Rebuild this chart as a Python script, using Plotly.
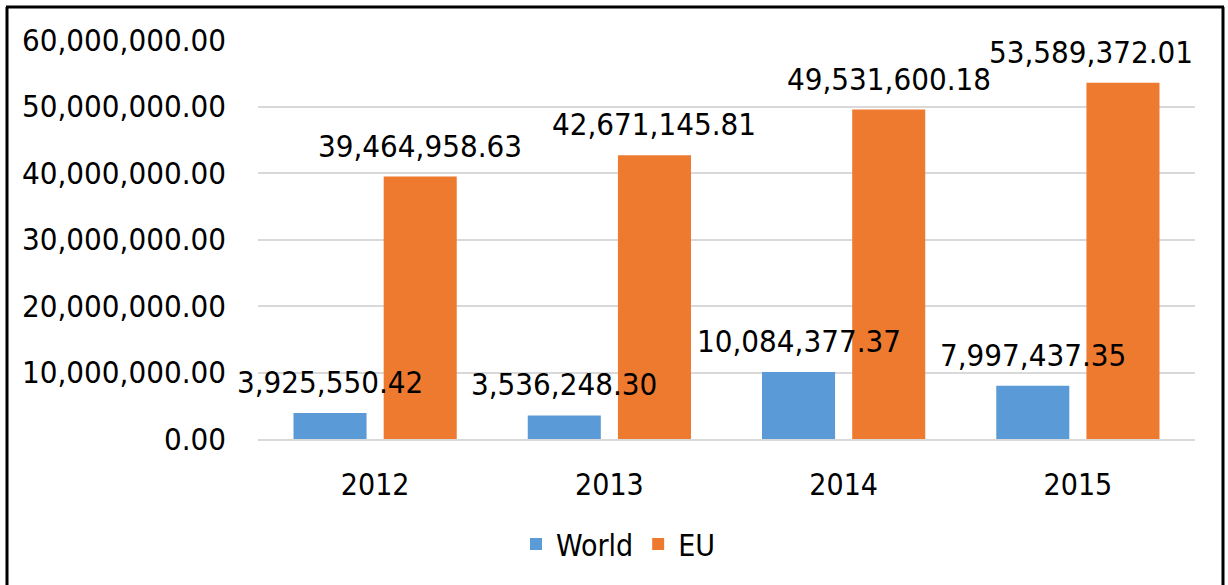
import plotly.graph_objects as go

years = ["2012", "2013", "2014", "2015"]
world = [3925550.42, 3536248.30, 10084377.37, 7997437.35]
eu = [39464958.63, 42671145.81, 49531600.18, 53589372.01]
y_ticks = [0, 10_000_000, 20_000_000, 30_000_000, 40_000_000, 50_000_000, 60_000_000]

FONT = "DejaVu Sans Condensed, DejaVu Sans, sans-serif"
W, H = 1228, 585
L, R, T, B = 258, 33, 40, 146
BARGAP = 0.23
LABEL_SIZE = 31

fig = go.Figure()
fig.add_trace(go.Bar(name="World", x=years, y=world, marker=dict(color="#5a9ad6", line=dict(width=0))))
fig.add_trace(go.Bar(name="EU", x=years, y=eu, marker=dict(color="#ee7a30", line=dict(width=0))))

pw, ph = W - L - R, H - T - B
cat_px = pw / len(years)

# value labels above each bar, nudged inward if they would run past the frame
half = (1 - BARGAP) / 4
for i in range(len(years)):
    for vals, off in ((world, -half), (eu, half)):
        text = f"{vals[i]:,.2f}"
        center = L + (i + 0.5 + off) * cat_px
        approx_w = 0.6 * LABEL_SIZE * len(text)
        right_edge = center + approx_w / 2
        shift = min(0, (W - 16) - right_edge)
        fig.add_annotation(
            x=i + off, y=vals[i], xref="x", yref="y",
            text=text, showarrow=False,
            yanchor="middle", yshift=31, xshift=shift,
            font=dict(family=FONT, size=LABEL_SIZE, color="black"),
        )

# frame around the chart (open at the bottom edge)
def px(x):
    return (x - L) / pw
def py(y):
    return (H - B - y) / ph
frame = dict(type="line", xref="paper", yref="paper", line=dict(color="black", width=3), layer="above")
fig.add_shape(**frame, x0=px(7), x1=px(7), y0=py(7), y1=py(600))
fig.add_shape(**frame, x0=px(1223), x1=px(1223), y0=py(7), y1=py(600))
fig.add_shape(**frame, x0=px(6), x1=px(1224), y0=py(7), y1=py(7))

fig.update_layout(
    width=W, height=H,
    margin=dict(l=L, r=R, t=T, b=B, autoexpand=False),
    paper_bgcolor="white", plot_bgcolor="white",
    barmode="group", bargap=BARGAP, bargroupgap=0.19,
    font=dict(family=FONT, size=30, color="black"),
    showlegend=True,
    legend=dict(orientation="h", x=px(618), xanchor="center", y=py(544), yanchor="middle",
                font=dict(family=FONT, size=30, color="black"), itemwidth=30),
)
fig.update_xaxes(range=[-0.5, 3.5], showgrid=False, showline=True, linecolor="#d9d9d9", linewidth=2,
                 ticks="", ticklabelstandoff=18, tickfont=dict(size=30))
fig.update_yaxes(range=[0, 60_000_000], tickvals=y_ticks, tickformat=",.2f",
                 showgrid=True, gridcolor="#d9d9d9", gridwidth=1.5, zeroline=False,
                 showline=False, ticks="", ticklabelstandoff=31, tickfont=dict(size=31))

fig.write_html("out.html")
